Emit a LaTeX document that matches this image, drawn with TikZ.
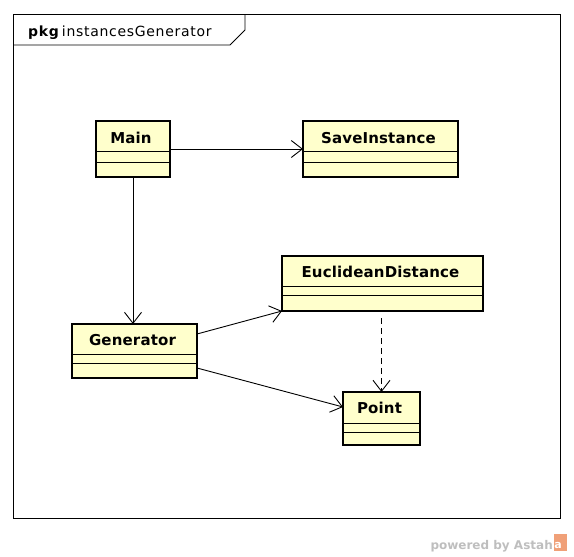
\documentclass[tikz,border=0pt]{standalone}
\usepackage{fontspec}
\setmainfont{DejaVu Sans}
\usetikzlibrary{arrows.meta}
\definecolor{clsfill}{RGB}{255,255,204}
\definecolor{wmgray}{RGB}{190,190,190}
\definecolor{wmorange}{RGB}{240,160,120}
\tikzset{
  cls/.style={draw=black, line width=2.6pt, fill=clsfill, inner sep=0pt, outer sep=0pt},
  clsname/.style={font=\fontsize{15}{17}\selectfont\bfseries\addfontfeatures{LetterSpace=1}, anchor=base, inner sep=0pt},
  sep/.style={line width=0.8pt},
  assoc/.style={line width=0.9pt, -{Straight Barb[length=11pt,width=17pt,line width=0.9pt]}},
  dep/.style={assoc, dash pattern=on 6pt off 4pt},
  frame/.style={draw=black, line width=0.8pt}
}
\newcommand{\umlclass}[9]{%
  % #1 name, #2 x1, #3 y1, #4 x2, #5 y2, #6 sep1, #7 sep2, #8 title, #9 baseline
  \node[cls, minimum width=#4pt-#2pt, minimum height=#5pt-#3pt] (#1) at ({(#2+#4)/2},{(#3+#5)/2}) {};
  \draw[sep] (#2,#6) -- (#4,#6);
  \draw[sep] (#2,#7) -- (#4,#7);
  \node[clsname] (#1-t) at ({(#2+#4)/2-2},#9) {#8};
}
\begin{document}
\begin{tikzpicture}[x=1pt,y=-1pt]
\useasboundingbox (0,0) rectangle (574,557);
% package frame
\draw[frame] (13,14) rectangle (560,518);
\draw[frame] (13,45) -- (230,45) -- (245,30) -- (245,14);
\node[anchor=base west, inner sep=0pt, font=\fontsize{14}{16}\selectfont\addfontfeatures{LetterSpace=5}] (pkg) at (28,36) {\textbf{pkg}\,instancesGenerator};
% classes
\umlclass{main}{96}{121}{170}{177}{151}{162}{Main}{143}
\umlclass{save}{303}{121}{458}{177}{151}{162}{SaveInstance}{143}
\umlclass{euc}{282}{256}{483}{311}{286}{295}{EuclideanDistance}{277}
\umlclass{gen}{72}{324}{197}{378}{354}{363}{Generator}{345}
\umlclass{point}{343}{392}{420}{445}{423}{432}{Point}{413}
% connectors
\draw[assoc] (main.east) -- (save.west);
\draw[assoc] (main.south) -- (main.south |- gen.north);
\draw[assoc] ([yshift=17pt]gen.east) -- (euc.south west);
\draw[assoc] ([yshift=-17pt]gen.east) -- ([yshift=11.5pt]point.west);
\draw[dep] ([yshift=-7pt]euc.south -| point.north) -- (point.north);
% watermark
\node[anchor=base east, inner sep=0pt, text=wmgray, font=\fontsize{12}{14}\selectfont\bfseries] (wm) at (553,549) {powered by Astah};
\fill[wmorange] (554,534) rectangle (567,551);
\node[inner sep=0pt, text=white, font=\fontsize{11}{12}\selectfont\bfseries] (logo) at (558,545) {a};
\end{tikzpicture}
\end{document}
